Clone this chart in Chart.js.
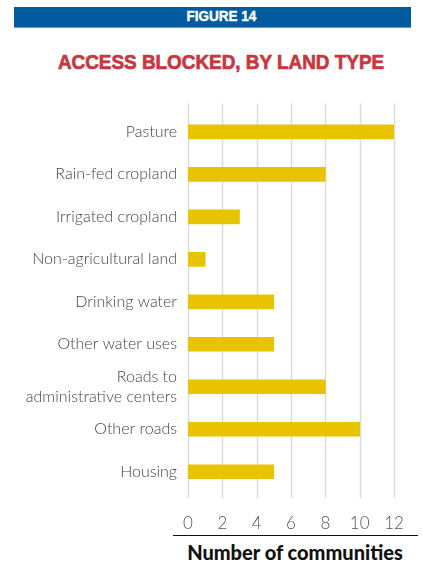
<!DOCTYPE html>
<html>
<head>
<meta charset="utf-8">
<script src="https://cdn.jsdelivr.net/npm/chart.js@4/dist/chart.umd.min.js"></script>
<style>
  html, body { margin: 0; padding: 0; background: #fff; }
  body { width: 422px; height: 563px; position: relative; overflow: hidden; font-family: "Lato", sans-serif; }
  #fig {
    position: absolute; left: 14px; top: 7px; width: 397px; height: 21px;
    background: #005b9f; border-bottom: 1px solid #6d9ccc; box-sizing: border-box;
  }
  #fig span {
    position: absolute; left: 9px; top: 0; width: 397px; text-align: center; line-height: 21px;
    color: #fff; font: bold 15px "Liberation Sans", sans-serif;
    transform: scaleX(0.9); -webkit-text-stroke: 0.4px #fff;
  }
  #title {
    position: absolute; left: 10px; top: 49px; width: 422px; text-align: center;
    color: #c8363f; font: bold 21px "Liberation Sans", sans-serif;
    line-height: 26px; transform: scaleX(0.9); -webkit-text-stroke: 0.7px #c8363f;
  }
  #wrap { position: absolute; left: 0; top: 90px; width: 422px; height: 445px; }
  #rule { position: absolute; left: 173px; top: 535px; width: 245px; height: 0; border-top: 1.5px solid #111; }
  #xtitle {
    position: absolute; left: 172px; top: 541px; width: 246px; text-align: center;
    font: 900 20px "Lato", sans-serif; color: #111; line-height: 22px;
  }
</style>
</head>
<body>
<div id="fig"><span>FIGURE 14</span></div>
<div id="title">ACCESS BLOCKED, BY LAND TYPE</div>
<div id="wrap"><canvas id="c"></canvas></div>
<div id="rule"></div>
<div id="xtitle">Number of communities</div>
<script>
// Land types where access was blocked, and how many communities reported it
const landTypes = [
  'Pasture',
  'Rain-fed cropland',
  'Irrigated cropland',
  'Non-agricultural land',
  'Drinking water',
  'Other water uses',
  ['Roads to', 'administrative centers'],
  'Other roads',
  'Housing'
];
const communities = [12, 8, 3, 1, 5, 5, 8, 10, 5];
const xTicks = [0, 2, 4, 6, 8, 10, 12];

const labelFont = { family: 'Lato', size: 16, weight: '300' };

// Vertical guide lines drawn from the x scale, slightly past the bar band
const gridPlugin = {
  id: 'vgrid',
  beforeDatasetsDraw(chart) {
    const { ctx, chartArea, scales } = chart;
    ctx.save();
    ctx.strokeStyle = '#dcdcdc';
    ctx.lineWidth = 1.5;
    xTicks.forEach(v => {
      const x = Math.round(scales.x.getPixelForValue(v)) + 0.5;
      ctx.beginPath();
      ctx.moveTo(x, chartArea.top - 7);
      ctx.lineTo(x, chartArea.bottom + 5);
      ctx.stroke();
    });
    ctx.restore();
  }
};

new Chart(document.getElementById('c'), {
  type: 'bar',
  data: {
    labels: landTypes,
    datasets: [{
      data: communities,
      backgroundColor: '#e8c400',
      borderWidth: 0,
      barThickness: 14
    }]
  },
  options: {
    indexAxis: 'y',
    responsive: true,
    maintainAspectRatio: false,
    animation: false,
    layout: { padding: { top: 20, right: 28, left: 0, bottom: 0 } },
    plugins: { legend: { display: false }, tooltip: { enabled: false } },
    scales: {
      x: {
        min: 0, max: 12,
        afterBuildTicks(scale) { scale.ticks = xTicks.map(v => ({ value: v })); },
        afterFit(scale) { scale.height = 42; scale.paddingRight = 0; },
        grid: { display: false, drawTicks: false },
        border: { display: false },
        ticks: { color: '#555', font: { family: 'Lato', size: 17, weight: '300' }, padding: 20, maxRotation: 0 }
      },
      y: {
        afterFit(scale) { scale.width = 188; },
        grid: { display: false, drawTicks: false },
        border: { display: false },
        ticks: { color: '#444', font: labelFont, padding: 11 }
      }
    }
  },
  plugins: [gridPlugin]
});
</script>
</body>
</html>
